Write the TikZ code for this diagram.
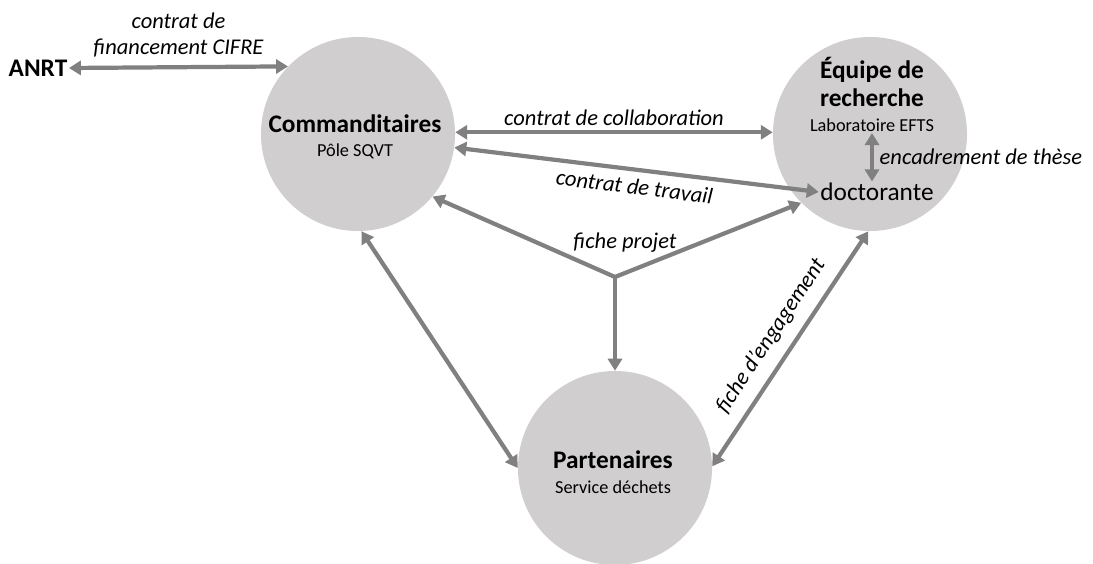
\documentclass[tikz,border=0pt]{standalone}
\usepackage{fontspec}
\setmainfont{Carlito}
\usepackage{tikz}
\usetikzlibrary{positioning, arrows.meta, calc}
\definecolor{pole}{RGB}{208, 206, 206}
\definecolor{link}{RGB}{128, 128, 128}
\tikzstyle{arrow} = [link, -{Triangle[length=8.5pt, width=10pt]}, line width=3pt]
\tikzstyle{biarrow} = [link, {Triangle[length=8.5pt, width=10pt]}-{Triangle[length=8.5pt, width=10pt]}, line width=3pt]
\tikzstyle{lbl} = [text=black, font=\fontsize{16pt}{18pt}\selectfont\itshape, align=center, inner sep=2pt]
\newcommand{\tikzpolenode}{\node[
  draw=none, circle, minimum size=4.85cm, fill=pole, inner sep=0
]}
\newcommand{\tikztitlenode}{\node[
  draw=none, align=center, inner sep=1pt, font=\fontsize{18pt}{20.5pt}\selectfont\bfseries
]}
\newcommand{\tikzsubnode}{\node[
  draw=none, inner sep=1pt, font=\fontsize{13pt}{15pt}\selectfont
]}

\begin{document}
\begin{tikzpicture}[x=0.025cm, y=-0.025cm]
    \useasboundingbox (0,0) rectangle (1093,564);

    % circles
    \tikzpolenode at (358,134)  (comm)   {};
    \tikzpolenode at (870,134)  (equipe) {};
    \tikzpolenode at (615,468)  (part)   {};

    % texts
    \tikztitlenode at (38,68)    (anrt)      {ANRT};
    \tikztitlenode at (355,124)  (commtitle) {Commanditaires};
    \tikzsubnode   at (355,151)  (commsub)   {Pôle SQVT};
    \tikztitlenode at (872,82)   (eqtitle)   {Équipe de\\recherche};
    \tikzsubnode   at (872,125)  (labo)      {Laboratoire EFTS};
    \node[font=\fontsize{18pt}{20pt}\selectfont, inner sep=1pt] at (877,192) (doct) {doctorante};
    \tikztitlenode at (613,460)  (parttitle) {Partenaires};
    \tikzsubnode   at (613,487)  (partsub)   {Service déchets};
    \coordinate (fp) at (615,277);
    \node[lbl] at (625,243) (fplbl) {fiche projet};

    % arrows
    \draw[biarrow] (anrt.east) -- (comm.136)
      node[lbl, midway, above=4pt] (cifre) {contrat de\\financement CIFRE};
    \draw[biarrow] (comm.1) -- (equipe.179)
      node[lbl, midway, above=1pt] (collab) {contrat de collaboration};
    \draw[biarrow] (comm.-8) -- (doct.west)
      node[lbl, midway, below=3pt, sloped] (travail) {contrat de travail};
    \draw[biarrow] (labo.south) -- (labo.south |- doct.north)
      node[lbl, midway, right=2pt] (encad) {encadrement de thèse};
    \draw[arrow] (fp) -- (comm.-40);
    \draw[arrow] (fp) -- (equipe.225);
    \draw[arrow] (fp) -- (part.north);
    \draw[biarrow] (comm.-88) -- (part.180);
    \draw[biarrow] (part.1) -- (equipe.269)
      node[lbl, midway, above=6pt, sloped] (engag) {fiche d'engagement};
\end{tikzpicture}
\end{document}
